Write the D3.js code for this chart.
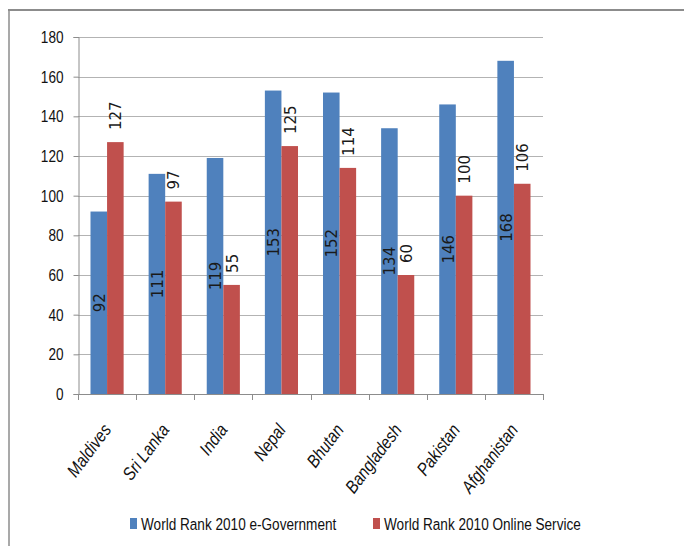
<!DOCTYPE html>
<html>
<head>
<meta charset="utf-8">
<script src="https://cdn.jsdelivr.net/npm/d3@7"></script>
<style>
  html, body { margin: 0; padding: 0; background: #fff; }
  svg { display: block; }
</style>
</head>
<body>
<svg id="chart" width="684" height="546"></svg>
<script>
const categories = ["Maldives", "Sri Lanka", "India", "Nepal", "Bhutan", "Bangladesh", "Pakistan", "Afghanistan"];
const seriesNames = ["World Rank 2010 e-Government", "World Rank 2010 Online Service"];
const eGovernment = [92, 111, 119, 153, 152, 134, 146, 168];
const onlineService = [127, 97, 55, 125, 114, 60, 100, 106];
const yTicks = [0, 20, 40, 60, 80, 100, 120, 140, 160, 180];
const colors = ["#4F81BD", "#C0504D"];

(function () {
const svg = d3.select("#chart");
const font = "'Liberation Sans', Arial, sans-serif";
const squeeze = 0.8;   // horizontally condensed look of the original text

// frame (top and left border lines)
svg.append("line").attr("x1", 8).attr("x2", 684).attr("y1", 10).attr("y2", 10)
  .attr("stroke", "#8c8c8c").attr("stroke-width", 2);
svg.append("line").attr("x1", 9).attr("x2", 9).attr("y1", 9).attr("y2", 546)
  .attr("stroke", "#8c8c8c").attr("stroke-width", 1.5);

const pLeft = 78, pRight = 543, pTop = 37, pBottom = 394;

const y = d3.scaleLinear().domain([0, 180]).range([pBottom, pTop]);
const x0 = d3.scaleBand().domain(categories).range([pLeft, pRight])
  .paddingInner(0.43).paddingOuter(0.215);
const x1 = d3.scaleBand().domain([0, 1]).range([0, x0.bandwidth()]);

// gridlines
svg.append("g").selectAll("line").data(yTicks.filter(d => d > 0)).join("line")
  .attr("x1", pLeft).attr("x2", pRight)
  .attr("y1", d => Math.round(y(d)) + 0.5).attr("y2", d => Math.round(y(d)) + 0.5)
  .attr("stroke", "#b3b3b3").attr("stroke-width", 1);

// y axis
const yAxis = svg.append("g")
  .attr("transform", `translate(${pLeft + 0.5},0)`)
  .call(d3.axisLeft(y).tickValues(yTicks).tickSize(5).tickPadding(9).tickFormat(d3.format("d")));
yAxis.select(".domain").attr("stroke", "#8c8c8c");
yAxis.selectAll(".tick line").attr("stroke", "#8c8c8c");
yAxis.selectAll(".tick text")
  .attr("x", 0)
  .attr("transform", `translate(-15,0) scale(${squeeze},1)`)
  .attr("font-family", font).attr("font-size", 17).attr("fill", "#111");

// bars
const data = categories.map((c, i) => ({ c, vals: [eGovernment[i], onlineService[i]] }));
const groups = svg.append("g").selectAll("g").data(data).join("g")
  .attr("transform", d => `translate(${x0(d.c)},0)`);
groups.selectAll("rect").data(d => d.vals.map((v, k) => ({ v, k }))).join("rect")
  .attr("x", d => x1(d.k))
  .attr("width", x1.bandwidth())
  .attr("y", d => y(d.v))
  .attr("height", d => y(0) - y(d.v))
  .attr("fill", d => colors[d.k]);

// data labels
const labelFont = "'DejaVu Sans', sans-serif";
groups.selectAll("text.val").data(d => d.vals.map((v, k) => ({ v, k }))).join("text")
  .attr("class", "val")
  .attr("font-family", labelFont).attr("font-size", 15).attr("fill", "#1a1a1a")
  .attr("dominant-baseline", "central")
  .attr("text-anchor", d => d.k === 0 ? "middle" : "start")
  .attr("transform", d => {
    const cx = x1(d.k) + x1.bandwidth() / 2 + 1;
    const cy = d.k === 0 ? (y(d.v) + y(0)) / 2 : y(d.v) - 12;
    return `translate(${cx},${cy}) rotate(-90)`;
  })
  .text(d => d.v);

// x axis
svg.append("line").attr("x1", pLeft).attr("x2", pRight)
  .attr("y1", pBottom + 0.5).attr("y2", pBottom + 0.5).attr("stroke", "#8c8c8c");
const boundaries = categories.map(c => x0(c) - x0.step() * x0.paddingInner() / 2).concat([pRight]);
svg.append("g").selectAll("line").data(boundaries).join("line")
  .attr("x1", d => Math.round(d) + 0.5).attr("x2", d => Math.round(d) + 0.5)
  .attr("y1", pBottom).attr("y2", pBottom + 6).attr("stroke", "#8c8c8c");

// category labels (condensed italic, rotated)
svg.append("g").selectAll("text").data(categories).join("text")
  .attr("font-family", font).attr("font-size", 18).attr("font-style", "italic").attr("fill", "#111")
  .attr("text-anchor", "end")
  .attr("transform", c => `translate(${x0(c) + x0.bandwidth() / 2 + 5},${pBottom + 36}) rotate(-53) scale(0.85,1)`)
  .text(c => c);

// legend
const legendItems = [
  { name: seriesNames[0], color: colors[0], x: 130 },
  { name: seriesNames[1], color: colors[1], x: 373 }
];
const lg = svg.append("g").selectAll("g").data(legendItems).join("g")
  .attr("transform", d => `translate(${d.x},0)`);
lg.append("rect").attr("x", 0).attr("y", 518).attr("width", 7).attr("height", 11).attr("fill", d => d.color);
lg.append("text")
  .attr("transform", `translate(11,530) scale(${squeeze},1)`)
  .attr("font-family", font).attr("font-size", 17).attr("fill", "#111")
  .text(d => d.name);
})();
</script>
</body>
</html>
